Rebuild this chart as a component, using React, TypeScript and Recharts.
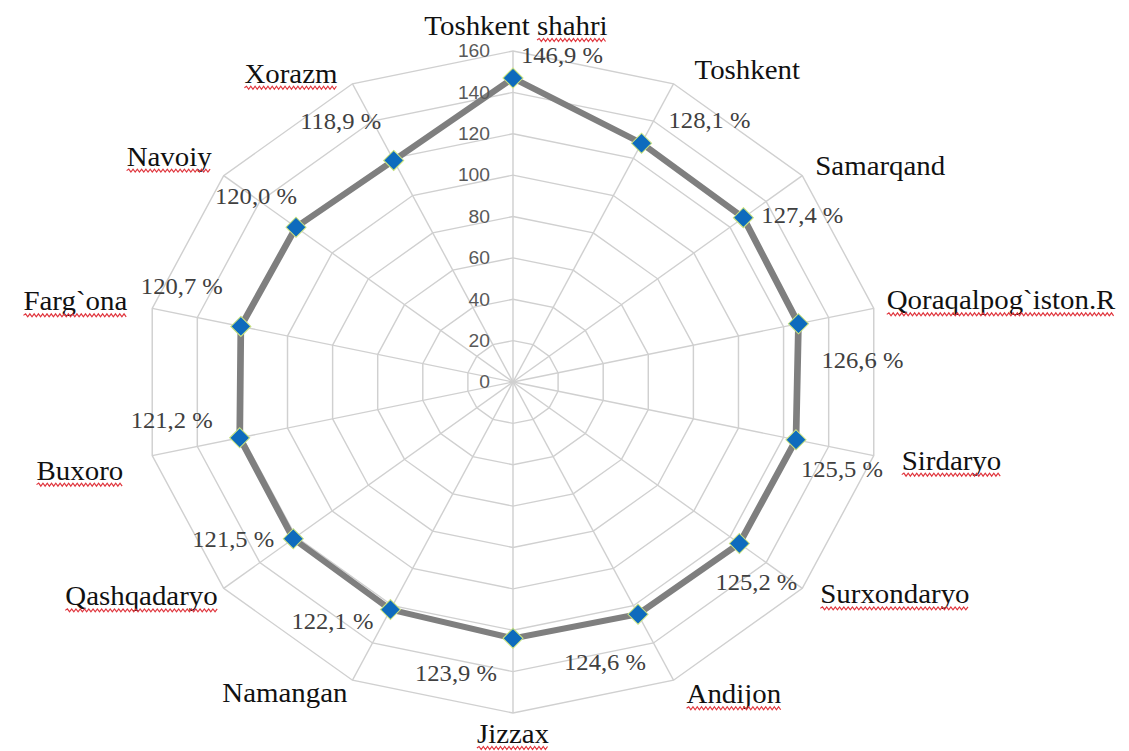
import React from "react";
import { RadarChart, Radar, PolarGrid, PolarAngleAxis, PolarRadiusAxis } from "recharts";

const regions = [
  "Toshkent shahri",
  "Toshkent",
  "Samarqand",
  "Qoraqalpog`iston.R",
  "Sirdaryo",
  "Surxondaryo",
  "Andijon",
  "Jizzax",
  "Namangan",
  "Qashqadaryo",
  "Buxoro",
  "Farg`ona",
  "Navoiy",
  "Xorazm",
];
const growth = [146.9, 128.1, 127.4, 126.6, 125.5, 125.2, 124.6, 123.9, 122.1, 121.5, 121.2, 120.7, 120.0, 118.9];
const radiusTicks = [0, 20, 40, 60, 80, 100, 120, 140, 160];
// words with the red spell-check squiggle in the original
const squiggled = ["shahri", "Qoraqalpog`iston.R", "Sirdaryo", "Surxondaryo", "Andijon", "Jizzax", "Qashqadaryo", "Buxoro", "Farg`ona", "Navoiy", "Xorazm"];

// label nudges in screen px (category: from outer vertex to baseline; value: from point to centre)
const nameNudge: [number, number][] = [
  [3, -16], [21, -5], [13, -1], [13, 1], [28, 14], [18, 15], [13, 23],
  [0, 30], [-5, 22], [-6, 17], [-29, 24], [-25, 2], [-12, -10], [-15, -1],
];
const valueNudge: [number, number][] = [
  [49, -23], [68, -23], [59, -2], [64, 37], [46, 30], [17, 39], [-33, 48],
  [-57, 35], [-58, 12], [-60, 1], [-68, -18], [-59, -40], [-40, -31], [-53, -39],
];

// the picture is stretched horizontally, so the svg is too
const SX = 1.118;
const TX = 1.07;
const W = 1129 / SX;
const H = 751;
const CX = 513 / SX;
const CY = 382;
const R = 331;

const SERIF = '"Liberation Serif", "DejaVu Serif", "Noto Serif", serif';
const SANS = '"Liberation Sans", Arial, sans-serif';
const NAME_SIZE = 27;

const chartData = regions.map((name, i) => ({ name, value: growth[i] }));

const squash = (x: number, y: number) => `translate(${x} ${y}) scale(${TX / SX} 1) translate(${-x} ${-y})`;
const fmt = (v: number) => v.toFixed(1).replace(".", ",") + " %";

let ctx: CanvasRenderingContext2D | null = null;
function measure(s: string) {
  if (!ctx) {
    ctx = document.createElement("canvas").getContext("2d");
    if (ctx) ctx.font = `${NAME_SIZE}px ${SERIF}`;
  }
  return ctx ? ctx.measureText(s).width : s.length * NAME_SIZE * 0.5;
}

function squigglePath(x0: number, x1: number, y: number) {
  let d = `M${x0},${y}`;
  let up = true;
  for (let x = x0 + 2; x <= x1; x += 2) {
    d += ` L${x},${y + (up ? -1.5 : 1.5)}`;
    up = !up;
  }
  return d;
}

function NameTick(props: any) {
  const { payload, index } = props;
  const rad = (payload.coordinate * Math.PI) / 180;
  const vx = CX + R * Math.cos(rad);
  const vy = CY - R * Math.sin(rad);
  const [dx, dy] = nameNudge[index];
  const x = vx + dx / SX;
  const y = vy + dy;
  const anchor = index === 0 || index === 7 ? "middle" : index < 7 ? "start" : "end";
  const label = String(payload.value);
  const total = measure(label);
  const left = anchor === "start" ? x : anchor === "middle" ? x - total / 2 : x - total;
  const words = label.split(" ");
  const marks: React.ReactNode[] = [];
  let pos = 0;
  words.forEach((w, k) => {
    const pre = k > 0 ? " " : "";
    const start = measure(label.slice(0, pos) + pre);
    const end = start + measure(w);
    if (squiggled.includes(w)) {
      marks.push(<path key={k} d={squigglePath(left + start, left + end, y + 5)} stroke="#e0353d" strokeWidth={1.1} fill="none" />);
    }
    pos += pre.length + w.length;
  });
  return (
    <g transform={squash(x, y)}>
      <text x={x} y={y} textAnchor={anchor} style={{ fontFamily: SERIF, fontSize: NAME_SIZE }} fill="#111">
        {label}
      </text>
      {marks}
    </g>
  );
}

function RadiusTick(props: any) {
  const { x, y, payload } = props;
  const tx = x - 23 / SX;
  return (
    <text x={tx} y={y} textAnchor="end" dominantBaseline="central" transform={squash(tx, y)} style={{ fontFamily: SANS, fontSize: 18 }} fill="#595959">
      {payload.value}
    </text>
  );
}

function Marker(props: any) {
  const { cx, cy, index } = props;
  const h = 10;
  const [dx, dy] = valueNudge[index];
  const lx = cx + dx / SX;
  const ly = cy + dy;
  return (
    <g key={`pt-${index}`}>
      <path
        d={`M${cx},${cy - h} L${cx + h / SX},${cy} L${cx},${cy + h} L${cx - h / SX},${cy} Z`}
        fill="#0e6bbd"
        stroke="#c9e27e"
        strokeWidth={1}
      />
      <text x={lx} y={ly} textAnchor="middle" dominantBaseline="central" transform={squash(lx, ly)} style={{ fontFamily: SERIF, fontSize: 23 }} fill="#404040">
        {fmt(growth[index])}
      </text>
    </g>
  );
}

export default function App() {
  return (
    <div style={{ position: "absolute", left: 0, top: 0, width: 1129, height: H, overflow: "hidden", background: "#fff" }}>
      <div style={{ width: W, height: H, transform: `scaleX(${SX})`, transformOrigin: "0 0" }}>
        <RadarChart width={W} height={H} data={chartData} cx={CX} cy={CY} outerRadius={R} margin={{ top: 0, right: 0, bottom: 0, left: 0 }}>
          <PolarGrid gridType="polygon" stroke="#d0d0d0" strokeWidth={1.3} />
          <PolarAngleAxis dataKey="name" tick={NameTick} tickLine={false} axisLine={false} />
          <PolarRadiusAxis
            angle={90}
            domain={[0, 160]}
            ticks={radiusTicks as any}
            tickCount={9}
            axisLine={false}
            tick={RadiusTick}
          />
          <Radar
            dataKey="value"
            stroke="#7f7f7f"
            strokeWidth={6}
            fill="none"
            fillOpacity={0}
            dot={Marker}
            isAnimationActive={false}
          />
        </RadarChart>
      </div>
    </div>
  );
}
